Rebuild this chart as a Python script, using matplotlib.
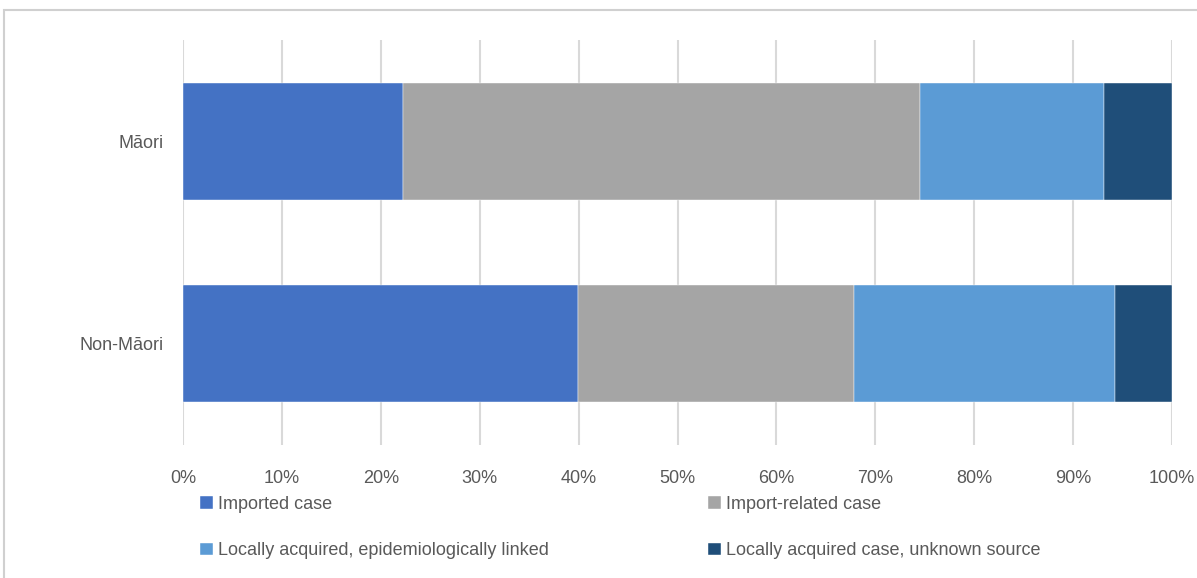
import numpy as np
import matplotlib.pyplot as plt
import matplotlib.patches as mpatches
from matplotlib.ticker import PercentFormatter

# ---------------------------------------------------------
# Data (share of cases, %)
# ---------------------------------------------------------
groups = ['Non-Māori', 'Māori']
imported = [39.9, 22.2]
import_related = [27.9, 52.3]
local_linked = [26.4, 18.6]
local_unknown = [5.8, 6.9]

series_names = ['Imported case', 'Import-related case',
                'Locally acquired, epidemiologically linked',
                'Locally acquired case, unknown source']
series = [imported, import_related, local_linked, local_unknown]
colors = ['#4472C4', '#A5A5A5', '#5B9BD5', '#1F4E79']

plt.rcParams['font.family'] = ['Liberation Sans Narrow', 'Liberation Sans', 'DejaVu Sans']

# ---------------------------------------------------------
# Figure
# ---------------------------------------------------------
fig = plt.figure(figsize=(11.97, 5.78), dpi=100)
ax = fig.add_axes([0.1529, 0.2301, 0.8262, 0.7007])

# outer chart frame
frame = mpatches.Rectangle((4 / 1197, -0.1), 1.2, 1 - 10 / 578 + 0.1,
                           transform=fig.transFigure, fill=False,
                           edgecolor='#D0D0D0', linewidth=1.5)
fig.add_artist(frame)

y = np.arange(len(groups))
left = np.zeros(len(groups))
handles = []
for vals, name, c in zip(series, series_names, colors):
    b = ax.barh(y, vals, left=left, height=0.576, color=c, label=name,
                edgecolor='white', linewidth=0.3, zorder=3)
    handles.append(b)
    left += np.array(vals)

ax.set_xlim(0, 100)
ax.set_ylim(-0.5, 1.5)
ax.set_xticks(np.arange(0, 101, 10))
ax.xaxis.set_major_formatter(PercentFormatter(decimals=0))
ax.set_yticks(y)
ax.set_yticklabels(groups)
ax.grid(axis='x', color='#D9D9D9', linewidth=1.5, zorder=0)
for s in ax.spines.values():
    s.set_visible(False)
ax.tick_params(axis='both', length=0, labelsize=13, labelcolor='#595959')
ax.tick_params(axis='x', pad=18)
ax.tick_params(axis='y', pad=14)

# legend reads row by row, so reorder for column filling
order = [0, 2, 1, 3]
leg = fig.legend([handles[i] for i in order], [series_names[i] for i in order],
                 ncol=2, loc='upper left',
                 bbox_to_anchor=(0.1538, 0.1706), frameon=False,
                 fontsize=13, labelcolor='#595959',
                 handlelength=0.7, handleheight=0.7, handletextpad=0.3,
                 columnspacing=8.8, labelspacing=1.65)

plt.savefig('out.png', dpi=100, facecolor='white')
